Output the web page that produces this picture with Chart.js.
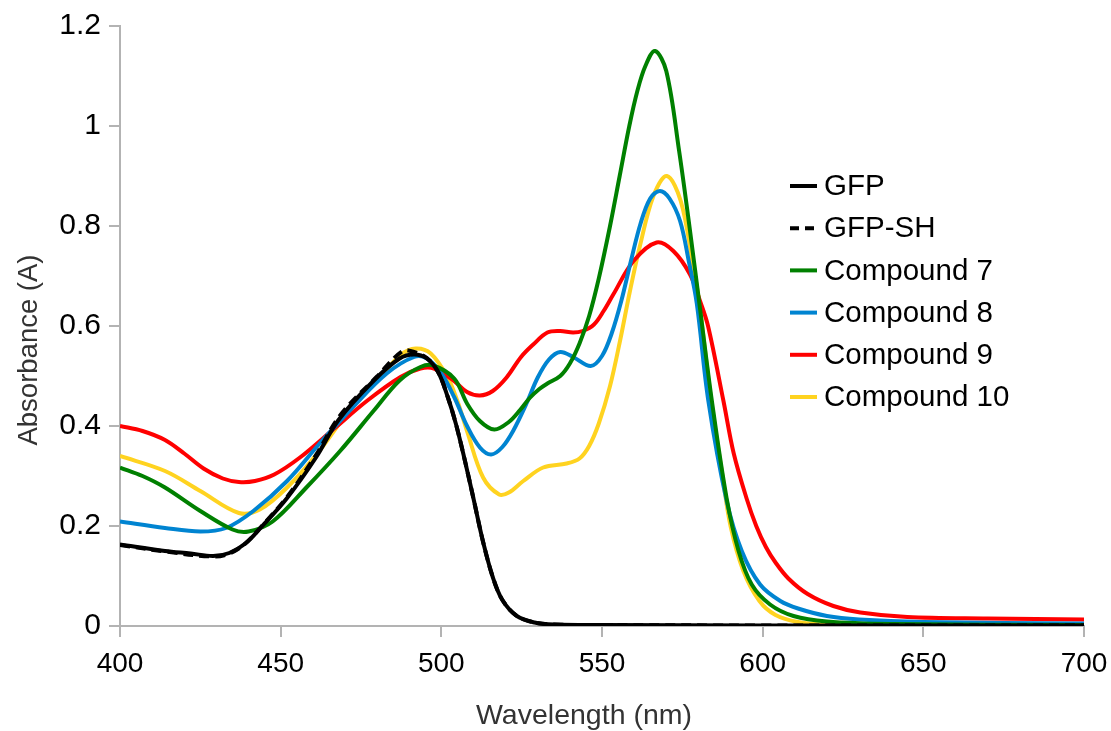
<!DOCTYPE html>
<html>
<head>
<meta charset="utf-8">
<script src="https://cdn.jsdelivr.net/npm/chart.js@4.4.1/dist/chart.umd.min.js"></script>
<style>
  html, body { margin: 0; padding: 0; background: #fff; }
  #wrap { width: 1111px; height: 731px; }
</style>
</head>
<body>
<div id="wrap"><canvas id="spectra" width="1111" height="731"></canvas></div>
<script>
// absorbance spectra, wavelength (nm) / absorbance (A)
const gfpNm = [400, 414, 422, 429, 434, 439, 444, 452, 461, 468, 479, 487, 491.5, 495.5, 499, 502, 504.5, 507, 510, 513, 516, 519, 523.5, 529, 535, 550, 600, 650, 700];
const gfpAbs = [0.163, 0.150, 0.145, 0.140, 0.146, 0.165, 0.198, 0.256, 0.337, 0.412, 0.491, 0.535, 0.543, 0.535, 0.508, 0.458, 0.405, 0.340, 0.255, 0.168, 0.098, 0.052, 0.020, 0.007, 0.003, 0.002, 0.001, 0.001, 0.001];

const gfpShNm = [400, 414, 429, 434, 439, 444, 452, 461, 468.5, 480, 488, 491.5, 495.5, 499, 502, 504.5, 507, 510, 513, 516, 519, 523.5, 529, 535, 550, 600, 650, 700];
const gfpShAbs = [0.162, 0.149, 0.139, 0.145, 0.165, 0.199, 0.258, 0.342, 0.421, 0.499, 0.550, 0.548, 0.536, 0.508, 0.458, 0.405, 0.340, 0.255, 0.168, 0.098, 0.052, 0.020, 0.007, 0.003, 0.002, 0.001, 0.001, 0.001];

const cmpd7Nm = [400, 407, 414, 425, 435, 440, 447.5, 458, 468.5, 479, 487, 493.5, 497.5, 504, 508, 512, 516.5, 521, 524.5, 527.5, 530.5, 533, 537, 540, 543, 546, 549, 552.5, 555.5, 558.5, 561, 563.5, 566.5, 570, 574, 577.4, 580.5, 584.2, 588.8, 592.5, 596.6, 602.3, 609.6, 620, 640, 700];
const cmpd7Abs = [0.317, 0.300, 0.277, 0.230, 0.193, 0.189, 0.209, 0.277, 0.350, 0.431, 0.491, 0.518, 0.521, 0.495, 0.445, 0.410, 0.393, 0.408, 0.432, 0.456, 0.474, 0.485, 0.500, 0.525, 0.565, 0.620, 0.695, 0.800, 0.900, 1.000, 1.070, 1.120, 1.150, 1.110, 0.950, 0.790, 0.635, 0.450, 0.255, 0.150, 0.083, 0.043, 0.020, 0.009, 0.004, 0.002];

const cmpd8Nm = [400, 414, 425, 433, 441.5, 452, 462, 472.5, 483, 491.5, 495.5, 500, 504, 508, 512, 515.5, 519, 522.5, 526.5, 530, 533.5, 537, 541, 546.5, 550, 553, 556, 559, 562, 565, 568, 571, 574.3, 577, 579.5, 583.1, 588.8, 593.5, 599.2, 605.5, 611, 620, 630, 650, 700];
const cmpd8Abs = [0.209, 0.196, 0.189, 0.196, 0.230, 0.290, 0.364, 0.438, 0.505, 0.538, 0.535, 0.505, 0.458, 0.400, 0.357, 0.343, 0.358, 0.392, 0.445, 0.497, 0.533, 0.548, 0.538, 0.520, 0.540, 0.585, 0.650, 0.730, 0.805, 0.855, 0.870, 0.855, 0.810, 0.730, 0.645, 0.450, 0.250, 0.150, 0.083, 0.050, 0.035, 0.020, 0.013, 0.008, 0.005];

const cmpd9Nm = [400, 407, 414, 420, 426, 432, 437, 442, 448, 456, 466.5, 477, 487.3, 493.5, 497.7, 504, 508, 512, 516, 520.3, 524.8, 528.6, 533, 537, 541, 544, 547.5, 550.5, 553.5, 559.8, 567, 572.2, 577.4, 580.5, 583, 587.8, 591, 595, 598, 601, 604, 608, 614, 622, 630.4, 645, 670, 700];
const cmpd9Abs = [0.400, 0.390, 0.372, 0.345, 0.315, 0.295, 0.288, 0.290, 0.303, 0.337, 0.394, 0.451, 0.498, 0.515, 0.515, 0.490, 0.468, 0.461, 0.470, 0.497, 0.538, 0.563, 0.587, 0.590, 0.587, 0.590, 0.603, 0.630, 0.663, 0.730, 0.767, 0.750, 0.703, 0.650, 0.600, 0.450, 0.345, 0.255, 0.200, 0.158, 0.127, 0.095, 0.064, 0.040, 0.027, 0.018, 0.015, 0.013];

const cmpd10Nm = [400, 414, 425, 437, 443.5, 452, 461.3, 470.6, 481, 487.3, 492, 496.7, 501.9, 505, 508, 513, 518, 521, 525.5, 531.7, 539, 543, 546, 549, 552.5, 555.6, 558.7, 561.8, 566, 570.2, 574.5, 578.4, 580.2, 584, 587.5, 590, 594, 599, 604, 611, 620, 700];
const cmpd10Abs = [0.340, 0.310, 0.270, 0.226, 0.233, 0.277, 0.344, 0.424, 0.498, 0.542, 0.555, 0.545, 0.498, 0.450, 0.390, 0.297, 0.263, 0.267, 0.290, 0.317, 0.325, 0.335, 0.360, 0.405, 0.480, 0.570, 0.670, 0.760, 0.860, 0.900, 0.850, 0.720, 0.650, 0.450, 0.300, 0.200, 0.110, 0.050, 0.022, 0.008, 0.003, 0.000];

const seriesLabels = ["GFP", "GFP-SH", "Compound 7", "Compound 8", "Compound 9", "Compound 10"];
const xTickValues = [400, 450, 500, 550, 600, 650, 700];
const yTickValues = [0, 0.2, 0.4, 0.6, 0.8, 1, 1.2];
const xTitle = "Wavelength (nm)";
const yTitle = "Absorbance (A)";

const FONT = "'Liberation Sans', Arial, sans-serif";
const AXIS_GREY = "#b3b3b3";

function zip(xs, ys) {
  return xs.map((x, i) => ({ x, y: ys[i] }));
}

function series(label, nm, abs, color, dash) {
  return {
    label,
    data: zip(nm, abs),
    borderColor: color,
    backgroundColor: color,
    borderWidth: 4,
    borderDash: dash || [],
    pointRadius: 0,
    tension: 0.35,
    fill: false
  };
}

// legend inside the plot plus the two axis titles
const annotations = {
  id: "annotations",
  afterDraw(chart) {
    const ctx = chart.ctx;
    const x0 = 790, lineLen = 27, textX = 824, y0 = 186, step = 42.2;
    ctx.save();
    ctx.font = "29.5px " + FONT;
    ctx.textBaseline = "middle";
    ctx.fillStyle = "#000";
    chart.data.datasets.forEach((ds, i) => {
      const y = y0 + i * step;
      ctx.strokeStyle = ds.borderColor;
      ctx.lineWidth = 4;
      ctx.setLineDash(ds.borderDash.length ? [9, 6] : []);
      ctx.beginPath();
      ctx.moveTo(x0, y);
      ctx.lineTo(x0 + lineLen, y);
      ctx.stroke();
      ctx.setLineDash([]);
      ctx.fillText(ds.label, textX, y + 1);
    });

    ctx.fillStyle = "#333";
    ctx.font = "28.5px " + FONT;
    ctx.textAlign = "center";
    ctx.fillText(xTitle, 584, 716);
    ctx.translate(29, 350);
    ctx.rotate(-Math.PI / 2);
    ctx.font = "27.5px " + FONT;
    ctx.fillText(yTitle, 0, 0);
    ctx.restore();
  }
};

new Chart(document.getElementById("spectra"), {
  type: "line",
  data: {
    datasets: [
      series(seriesLabels[0], gfpNm, gfpAbs, "#000000"),
      series(seriesLabels[1], gfpShNm, gfpShAbs, "#000000", [10, 6]),
      series(seriesLabels[2], cmpd7Nm, cmpd7Abs, "#008000"),
      series(seriesLabels[3], cmpd8Nm, cmpd8Abs, "#0084d1"),
      series(seriesLabels[4], cmpd9Nm, cmpd9Abs, "#ff0000"),
      series(seriesLabels[5], cmpd10Nm, cmpd10Abs, "#ffd320")
    ]
  },
  plugins: [annotations],
  options: {
    responsive: false,
    animation: false,
    devicePixelRatio: 1,
    layout: { padding: { top: 26, right: 27, left: 0, bottom: 0 } },
    plugins: {
      legend: { display: false },
      tooltip: { enabled: false }
    },
    scales: {
      x: {
        type: "linear",
        min: 400,
        max: 700,
        afterBuildTicks(scale) { scale.ticks = xTickValues.map((v) => ({ value: v })); },
        afterFit(scale) {
          scale.height = 105;
          scale.paddingLeft = 0;
          scale.paddingRight = 0;
        },
        grid: { drawOnChartArea: false, color: AXIS_GREY, tickLength: 11, lineWidth: 2 },
        border: { color: AXIS_GREY, width: 2 },
        ticks: { color: "#000", padding: 10, maxRotation: 0, font: { family: FONT, size: 28 } }
      },
      y: {
        min: 0,
        max: 1.2,
        afterBuildTicks(scale) { scale.ticks = yTickValues.map((v) => ({ value: v })); },
        afterFit(scale) {
          scale.width = 120;
          scale.paddingTop = 0;
          scale.paddingBottom = 0;
        },
        grid: { drawOnChartArea: false, color: AXIS_GREY, tickLength: 11, lineWidth: 2 },
        border: { color: AXIS_GREY, width: 2 },
        ticks: {
          color: "#000",
          padding: 8,
          font: { family: FONT, size: 30 },
          callback: (v) => String(v)
        }
      }
    }
  }
});
</script>
</body>
</html>
